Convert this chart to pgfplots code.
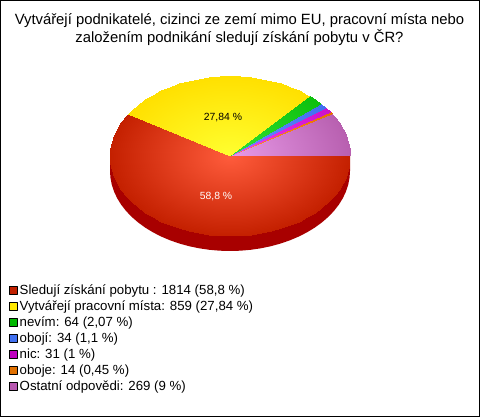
\documentclass[border=0pt]{standalone}
\usepackage{pgfplots}
\pgfplotsset{compat=1.18}
\usepackage{fontspec}
\setmainfont{Liberation Sans}
\definecolor{cR}{RGB}{192,32,0}
\definecolor{cY}{RGB}{255,232,0}
\definecolor{cG}{RGB}{0,184,0}
\definecolor{cB}{RGB}{64,112,240}
\definecolor{cM}{RGB}{192,0,192}
\definecolor{cO}{RGB}{224,112,0}
\definecolor{cL}{RGB}{184,88,176}
\pgfplotsset{sq/.style={legend image code/.code={\draw[black,line width=0.7pt,fill=#1] (0pt,-4pt) rectangle (8pt,4pt);}}}
\begin{document}
\begin{tikzpicture}
\useasboundingbox (0,0) rectangle (480pt,417pt);
\begin{axis}[at={(0,0)},anchor=south west,scale only axis,width=480pt,height=417pt,
  xmin=0,xmax=480,ymin=0,ymax=417,y dir=reverse,hide axis,clip=false,
  point meta min=0,point meta max=1,
  table/row sep=\\,
  legend style={at={(axis cs:9,282.5)},anchor=north west,draw=none,fill=none,
    font=\fontsize{13.25pt}{14pt}\selectfont,inner sep=0pt,outer sep=0pt,
    row sep=0.9pt,/tikz/every even column/.append style={column sep=4pt}},
  legend cell align=left]
% frame
\addplot[black,line width=1pt,forget plot] coordinates {(0.5,0.5)(479.5,0.5)(479.5,416.5)(0.5,416.5)(0.5,0.5)};
% depth
\addplot[draw=none,fill={rgb,255:red,168;green,0;blue,0},forget plot] coordinates {
(350,156)(350,171)(349.54,177.97)(348.18,184.89)(345.91,191.71)(342.76,198.36)(338.76,204.81)(333.92,211)(328.30,216.89)(321.92,222.42)(314.85,227.57)(307.13,232.28)(298.83,236.53)(290,240.28)(280.71,243.5)(271.04,246.18)(261.06,248.27)(250.84,249.78)(240.46,250.7)(230,251)(219.54,250.7)(209.16,249.78)(198.94,248.27)(188.96,246.18)(179.29,243.5)(170,240.28)(161.17,236.53)(152.87,232.28)(145.15,227.57)(138.08,222.42)(131.7,216.89)(126.08,211)(121.24,204.81)(117.24,198.36)(114.09,191.71)(111.82,184.89)(110.46,177.97)(110,171)(110,156)(350,156)} -- cycle;
% red
\addplot[patch,shader=interp,sq=cR,colormap={mR}{rgb255=(255,92,60) rgb255=(196,32,0)},
 patch table={0 1 2\\0 2 3\\0 3 4\\0 4 5\\0 5 6\\0 6 7\\0 7 8\\0 8 9\\0 9 10\\0 10 11\\0 11 12\\0 12 13\\0 13 14\\0 14 15\\0 15 16\\0 16 17\\0 17 18\\0 18 19\\0 19 20\\0 20 21\\0 21 22\\0 22 23\\0 23 24\\0 24 25\\0 25 26\\0 26 27\\0 27 28\\0 28 29\\0 29 30\\0 30 31\\0 31 32\\0 32 33\\0 33 34\\0 34 35\\0 35 36\\0 36 37\\0 37 38\\0 38 39\\0 39 40\\0 40 41\\0 41 42\\0 42 43\\0 43 44\\},
 point meta=\thisrow{m}] table {
x y m\\
230 156 0\\
350 156 1\\
349.54 162.97 1\\
348.18 169.89 1\\
345.91 176.71 1\\
342.76 183.36 1\\
338.76 189.81 1\\
333.92 196 1\\
328.30 201.89 1\\
321.92 207.42 1\\
314.85 212.57 1\\
307.13 217.28 1\\
298.83 221.53 1\\
290 225.28 1\\
280.71 228.5 1\\
271.04 231.18 1\\
261.06 233.27 1\\
250.84 234.78 1\\
240.46 235.7 1\\
230 236 1\\
219.54 235.7 1\\
209.16 234.78 1\\
198.94 233.27 1\\
188.96 231.18 1\\
179.29 228.5 1\\
170 225.28 1\\
161.17 221.53 1\\
152.87 217.28 1\\
145.15 212.57 1\\
138.08 207.42 1\\
131.7 201.89 1\\
126.08 196 1\\
121.24 189.81 1\\
117.24 183.36 1\\
114.09 176.71 1\\
111.82 169.89 1\\
110.46 162.97 1\\
110 156 1\\
110.46 149.03 1\\
111.82 142.11 1\\
114.09 135.29 1\\
117.24 128.64 1\\
121.24 122.19 1\\
126.08 116 1\\
127.88 113.98 1\\
};
\addlegendentry{Sledují získání pobytu : 1814 (58,8 \%)}
% yellow
\addplot[patch,shader=interp,sq=cY,colormap={mY}{rgb255=(255,255,48) rgb255=(255,224,0)},
 patch table={0 1 2\\0 2 3\\0 3 4\\0 4 5\\0 5 6\\0 6 7\\0 7 8\\0 8 9\\0 9 10\\0 10 11\\0 11 12\\0 12 13\\0 13 14\\0 14 15\\0 15 16\\0 16 17\\0 17 18\\0 18 19\\0 19 20\\0 20 21\\0 21 22\\},
 point meta=\thisrow{m}] table {
x y m\\
230 156 0\\
127.88 113.98 1\\
131.7 110.11 1\\
138.08 104.58 1\\
145.15 99.43 1\\
152.87 94.72 1\\
161.17 90.47 1\\
170 86.72 1\\
179.29 83.5 1\\
188.96 80.82 1\\
198.94 78.73 1\\
209.16 77.22 1\\
219.54 76.3 1\\
230 76 1\\
240.46 76.3 1\\
250.84 77.22 1\\
261.06 78.73 1\\
271.04 80.82 1\\
280.71 83.5 1\\
290 86.72 1\\
298.83 90.47 1\\
307.13 94.72 1\\
310.14 96.46 1\\
};
\addlegendentry{Vytvářejí pracovní místa: 859 (27,84 \%)}
% green
\addplot[patch,shader=interp,sq=cG,colormap={mG}{rgb255=(50,226,50) rgb255=(14,192,14)},
 patch table={0 1 2\\0 2 3\\},point meta=\thisrow{m}] table {
x y m\\
230 156 0\\
310.14 96.46 1\\
314.85 99.43 1\\
321.04 103.89 1\\
};
\addlegendentry{nevím: 64 (2,07 \%)}
% blue
\addplot[patch,shader=interp,sq=cB,colormap={mB}{rgb255=(110,140,255) rgb255=(64,112,240)},
 patch table={0 1 2\\},point meta=\thisrow{m}] table {
x y m\\
230 156 0\\
321.04 103.89 1\\
326.22 108.19 1\\
};
\addlegendentry{obojí: 34 (1,1 \%)}
% magenta
\addplot[patch,shader=interp,sq=cM,colormap={mM}{rgb255=(238,70,238) rgb255=(204,16,204)},
 patch table={0 1 2\\},point meta=\thisrow{m}] table {
x y m\\
230 156 0\\
326.22 108.19 1\\
330.52 112.31 1\\
};
\addlegendentry{nic: 31 (1 \%)}
% orange
\addplot[patch,shader=interp,sq=cO,colormap={mO}{rgb255=(255,150,40) rgb255=(232,112,0)},
 patch table={0 1 2\\},point meta=\thisrow{m}] table {
x y m\\
230 156 0\\
330.52 112.31 1\\
332.31 114.2 1\\
};
\addlegendentry{oboje: 14 (0,45 \%)}
% lilac
\addplot[patch,shader=interp,sq=cL,colormap={mL}{rgb255=(232,154,232) rgb255=(184,96,176)},
 patch table={0 1 2\\0 2 3\\0 3 4\\0 4 5\\0 5 6\\0 6 7\\0 7 8\\},point meta=\thisrow{m}] table {
x y m\\
230 156 0\\
332.31 114.2 1\\
333.92 116 1\\
338.76 122.19 1\\
342.76 128.64 1\\
345.91 135.29 1\\
348.18 142.11 1\\
349.54 149.03 1\\
350 156 1\\
};
\addlegendentry{Ostatní odpovědi: 269 (9 \%)}
% texts
\node[align=center,font=\fontsize{14.83pt}{17.5pt}\selectfont,inner sep=0pt] at (axis cs:239.5,29.5) {Vytvářejí podnikatelé, cizinci ze zemí mimo EU, pracovní místa nebo\\založením podnikání sledují získání pobytu v ČR?};
\node[font=\fontsize{10.4pt}{12pt}\selectfont,inner sep=0pt,black] at (axis cs:223,117.5) {27,84 \%};
\node[font=\fontsize{10.4pt}{12pt}\selectfont,inner sep=0pt,white] at (axis cs:216,196.5) {58,8 \%};
\end{axis}
\end{tikzpicture}
\end{document}
